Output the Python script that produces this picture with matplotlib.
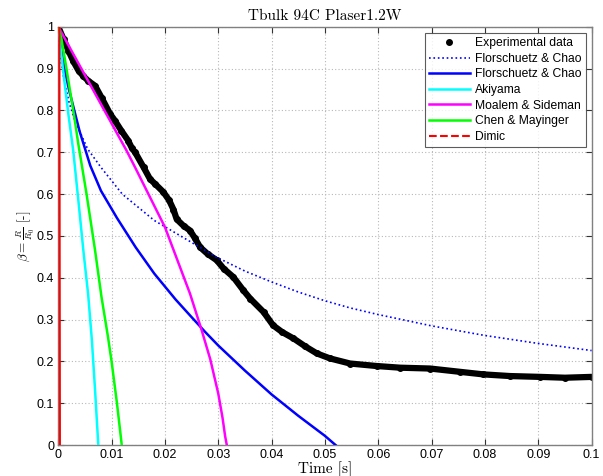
import matplotlib
matplotlib.use("Agg")
import matplotlib.pyplot as plt
from matplotlib.lines import Line2D

# ---------------- data ----------------
exp_t = [0, 0.001, 0.0019, 0.0028, 0.0038, 0.0047, 0.0056, 0.0069, 0.0081, 0.0097,
         0.0106, 0.0118, 0.0131, 0.0138, 0.0144, 0.016, 0.0172, 0.0181, 0.0197, 0.0208,
         0.0216, 0.0222, 0.0235, 0.0247, 0.0256, 0.0266, 0.028, 0.0297, 0.031, 0.0328,
         0.0347, 0.036, 0.0385, 0.0403, 0.042, 0.0441, 0.0463, 0.0485, 0.051, 0.0547,
         0.0597, 0.0641, 0.0697, 0.0754, 0.0797, 0.0847, 0.0904, 0.095, 0.1]
exp_b = [1.0, 0.97, 0.943, 0.918, 0.895, 0.882, 0.871, 0.859, 0.831, 0.792,
         0.776, 0.752, 0.728, 0.71, 0.70, 0.664, 0.636, 0.625, 0.605, 0.585,
         0.563, 0.540, 0.524, 0.513, 0.495, 0.473, 0.457, 0.442, 0.422, 0.402,
         0.37, 0.35, 0.318, 0.286, 0.27, 0.255, 0.236, 0.219, 0.207, 0.195,
         0.189, 0.185, 0.183, 0.175, 0.169, 0.165, 0.163, 0.161, 0.163]

fc1_t = [0, 0.0005, 0.001, 0.002, 0.0031, 0.0055, 0.008, 0.012, 0.018, 0.0244,
         0.0297, 0.035, 0.040, 0.045, 0.050, 0.0547, 0.060, 0.0641, 0.070, 0.080,
         0.090, 0.1]
fc1_b = [1.0, 0.92, 0.88, 0.82, 0.776, 0.708, 0.664, 0.60, 0.537, 0.489,
         0.449, 0.416, 0.39, 0.366, 0.345, 0.328, 0.312, 0.301, 0.285, 0.262,
         0.243, 0.226]

fc2_t = [0, 0.0005, 0.001, 0.002, 0.003, 0.004, 0.006, 0.008, 0.011, 0.0145,
         0.018, 0.022, 0.0247, 0.0275, 0.030, 0.035, 0.040, 0.045, 0.050, 0.052]
fc2_b = [1.0, 0.95, 0.91, 0.85, 0.80, 0.75, 0.668, 0.608, 0.543, 0.473,
         0.41, 0.348, 0.31, 0.271, 0.238, 0.178, 0.121, 0.070, 0.022, 0.0]

aki_t = [0, 0.0005, 0.001, 0.0019, 0.0028, 0.0038, 0.0047, 0.0056, 0.0063, 0.0069, 0.0075]
aki_b = [1.0, 0.94, 0.885, 0.79, 0.704, 0.58, 0.465, 0.36, 0.25, 0.13, 0.0]

ms_t = [0, 0.0128, 0.0144, 0.02, 0.0247, 0.0269, 0.0285, 0.030, 0.0308, 0.0313, 0.0316]
ms_b = [1.0, 0.704, 0.664, 0.521, 0.362, 0.274, 0.205, 0.123, 0.065, 0.02, 0.0]

cm_t = [0, 0.0006, 0.0014, 0.0031, 0.00375, 0.0053, 0.0069, 0.0081, 0.0093, 0.010, 0.011, 0.0119]
cm_b = [1.0, 0.97, 0.91, 0.776, 0.72, 0.60, 0.465, 0.354, 0.26, 0.199, 0.10, 0.0]

dim_t = [0.0002, 0.0003]
dim_b = [1.0, 0.0]

series_labels = ["Experimental data", "Florschuetz & Chao", "Florschuetz & Chao",
                 "Akiyama", "Moalem & Sideman", "Chen & Mayinger", "Dimic"]
xticks = [0, 0.01, 0.02, 0.03, 0.04, 0.05, 0.06, 0.07, 0.08, 0.09, 0.1]
xtick_labels = ["0", "0.01", "0.02", "0.03", "0.04", "0.05", "0.06", "0.07", "0.08", "0.09", "0.1"]
yticks = [0, 0.1, 0.2, 0.3, 0.4, 0.5, 0.6, 0.7, 0.8, 0.9, 1.0]
ytick_labels = ["0", "0.1", "0.2", "0.3", "0.4", "0.5", "0.6", "0.7", "0.8", "0.9", "1"]
title = "Tbulk 94C Plaser1.2W"

# ---------------- figure ----------------
plt.rcParams['font.family'] = ['Liberation Sans', 'DejaVu Sans']
plt.rcParams['mathtext.fontset'] = 'cm'

fig = plt.figure(figsize=(6.03, 4.76), dpi=100)
ax = fig.add_axes([0.0967, 0.065, 0.8843, 0.8786])

# experimental: thick band + dots
ax.plot(exp_t, exp_b, color='black', lw=4.5, solid_capstyle='round', zorder=2)
ax.plot(exp_t, exp_b, 'o', color='black', ms=4, zorder=2)

ax.plot(fc1_t, fc1_b, ':', color='#0000ff', lw=1.2, zorder=3)
ax.plot(fc2_t, fc2_b, '-', color='#0000ff', lw=1.8, zorder=3)
ax.plot(aki_t, aki_b, '-', color='#00ffff', lw=1.8, zorder=3)
ax.plot(ms_t, ms_b, '-', color='#ff00ff', lw=1.8, zorder=3)
ax.plot(cm_t, cm_b, '-', color='#00ff00', lw=1.8, zorder=3)
ax.plot(dim_t, dim_b, '-', color='#ff0000', lw=1.5, zorder=3)

ax.set_xlim(0, 0.1)
ax.set_ylim(0, 1)
ax.set_xticks(xticks)
ax.set_xticklabels(xtick_labels)
ax.set_yticks(yticks)
ax.set_yticklabels(ytick_labels)
ax.tick_params(direction='in', length=4, width=0.8, colors='#333333',
               labelsize=9, top=True, right=True, labelcolor='black', pad=3)
for s in ax.spines.values():
    s.set_color('#808080')
    s.set_linewidth(1.0)
ax.grid(True, linestyle=(0, (1, 2)), color='#b8b8b8', linewidth=0.8)
ax.set_axisbelow(True)

ax.set_title(title, fontfamily='cmr10', fontsize=11, pad=5)
ax.set_xlabel("Time [s]", fontfamily='cmr10', fontsize=11, labelpad=0)
ax.set_ylabel(r"$\beta = \frac{R}{R_0}$ [-]", fontfamily='cmr10', fontsize=9.5, labelpad=0)

handles = [
    Line2D([], [], linestyle='none', marker='o', ms=4, color='black'),
    Line2D([], [], linestyle=':', color='#0000ff', lw=1.2),
    Line2D([], [], linestyle='-', color='#0000ff', lw=1.8),
    Line2D([], [], linestyle='-', color='#00ffff', lw=1.8),
    Line2D([], [], linestyle='-', color='#ff00ff', lw=1.8),
    Line2D([], [], linestyle='-', color='#00ff00', lw=1.8),
    Line2D([], [], linestyle='--', color='#ff0000', lw=1.5),
]
leg = ax.legend(handles, series_labels, loc='upper right', fontsize=8.7,
                frameon=True, fancybox=False, edgecolor='#333333',
                handlelength=3.4, handletextpad=0.4, labelspacing=0.3,
                borderpad=0.35, borderaxespad=0.5)
leg.get_frame().set_linewidth(0.8)

fig.savefig("out.png", dpi=100)
